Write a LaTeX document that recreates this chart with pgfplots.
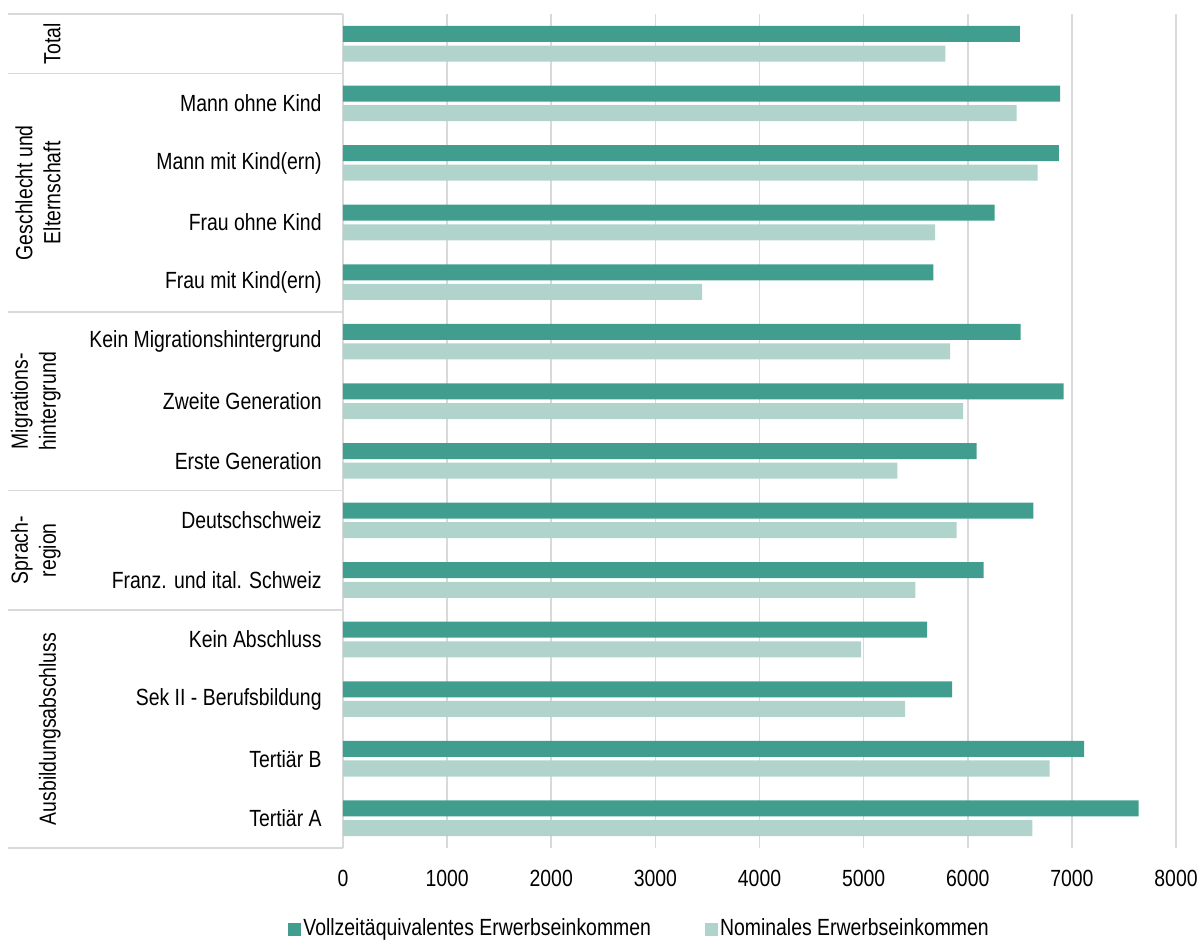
\documentclass[border=0pt]{standalone}
\usepackage{pgfplots}
\pgfplotsset{compat=1.18}
\usepackage{pgfplotstable}
\usepackage{fontspec}
\setmainfont{Liberation Sans}[FakeStretch=0.83]

\definecolor{vze}{HTML}{419E8E}
\definecolor{nom}{HTML}{B0D4CB}
\definecolor{gridgray}{HTML}{D9D9D9}

% Monthly income (CHF): full-time equivalent and nominal
\pgfplotstableread{
idx vze  nom
0   6500 5785
1   6886 6470
2   6875 6672
3   6258 5686
4   5670 3450
5   6508 5830
6   6921 5955
7   6086 5324
8   6630 5894
9   6153 5497
10  5610 4977
11  5849 5398
12  7118 6786
13  7641 6620
}\incometable

\begin{document}
\fontsize{11.7}{14}\selectfont
\begin{tikzpicture}
\begin{axis}[
  scale only axis, width=416.5pt, height=417pt,
  xbar, bar width=8pt,
  xmin=0, xmax=8000, ymin=-0.5, ymax=13.5, y dir=reverse,
  xtick={0,1000,...,8000},
  xticklabels={0,1000,2000,3000,4000,5000,6000,7000,8000},
  ytick={0,...,13},
  yticklabels={{},Mann ohne Kind,Mann mit Kind(ern),Frau ohne Kind,Frau mit Kind(ern),
    Kein Migrationshintergrund,Zweite Generation,Erste Generation,Deutschschweiz,
    Franz. und ital. Schweiz,Kein Abschluss,Sek II - Berufsbildung,Tertiär B,Tertiär A},
  major tick length=0pt,
  tick style={draw=none},
  axis line style={draw=none},
  xmajorgrids, grid style={draw=gridgray, line width=0.85pt},
  xticklabel style={inner sep=0pt, anchor=north},
  xticklabel shift=11pt,
  yticklabel style={inner sep=0pt, anchor=east},
  yticklabel shift=10.5pt,
  clip=false,
  legend columns=2,
  legend cell align=left,
  legend image code/.code={\fill[#1] (0pt,-3.25pt) rectangle (6.5pt,3.25pt);},
  legend style={at={(-0.066,-0.0971)}, anchor=west, draw=none, fill=none,
    inner sep=0pt, nodes={inner sep=1pt},
    /tikz/every even column/.append style={column sep=26pt}},
]
\addplot[fill=vze, draw=none, bar shift=4.9pt] table[x=vze, y=idx] {\incometable};
\addplot[fill=nom, draw=none, bar shift=-4.9pt] table[x=nom, y=idx] {\incometable};
\legend{Vollzeitäquivalentes Erwerbseinkommen, Nominales Erwerbseinkommen}

% group separators in the label column
\draw[gridgray, line width=0.85pt] (axis cs:-3217,-0.5) -- (axis cs:0,-0.5);
\draw[gridgray, line width=0.85pt] (axis cs:-3217,0.5)  -- (axis cs:0,0.5);
\draw[gridgray, line width=0.85pt] (axis cs:-3217,4.5)  -- (axis cs:0,4.5);
\draw[gridgray, line width=0.85pt] (axis cs:-3217,7.5)  -- (axis cs:0,7.5);
\draw[gridgray, line width=0.85pt] (axis cs:-3217,9.5)  -- (axis cs:0,9.5);
\draw[gridgray, line width=0.85pt] (axis cs:-3217,13.5) -- (axis cs:0,13.5);

% group labels
\node[rotate=90, anchor=south, align=center, inner sep=0pt] at (axis cs:-2708,0) {Total};
\node[rotate=90, anchor=south, align=center, inner sep=0pt] at (axis cs:-2708,2.5) {Geschlecht und\\Elternschaft};
\node[rotate=90, anchor=south, align=center, inner sep=0pt] at (axis cs:-2708,6) {Migrations-\\hintergrund};
\node[rotate=90, anchor=south, align=center, inner sep=0pt] at (axis cs:-2708,8.5) {Sprach-\\region};
\node[rotate=90, anchor=south, align=center, inner sep=0pt] at (axis cs:-2708,11.5) {Ausbildungsabschluss};

\coordinate (bbsw) at (axis cs:-3294,15.06);
\coordinate (bbne) at (axis cs:8259,-0.735);
\end{axis}
\pgfresetboundingbox
\path[use as bounding box] (bbsw) rectangle (bbne);
\end{tikzpicture}
\end{document}
